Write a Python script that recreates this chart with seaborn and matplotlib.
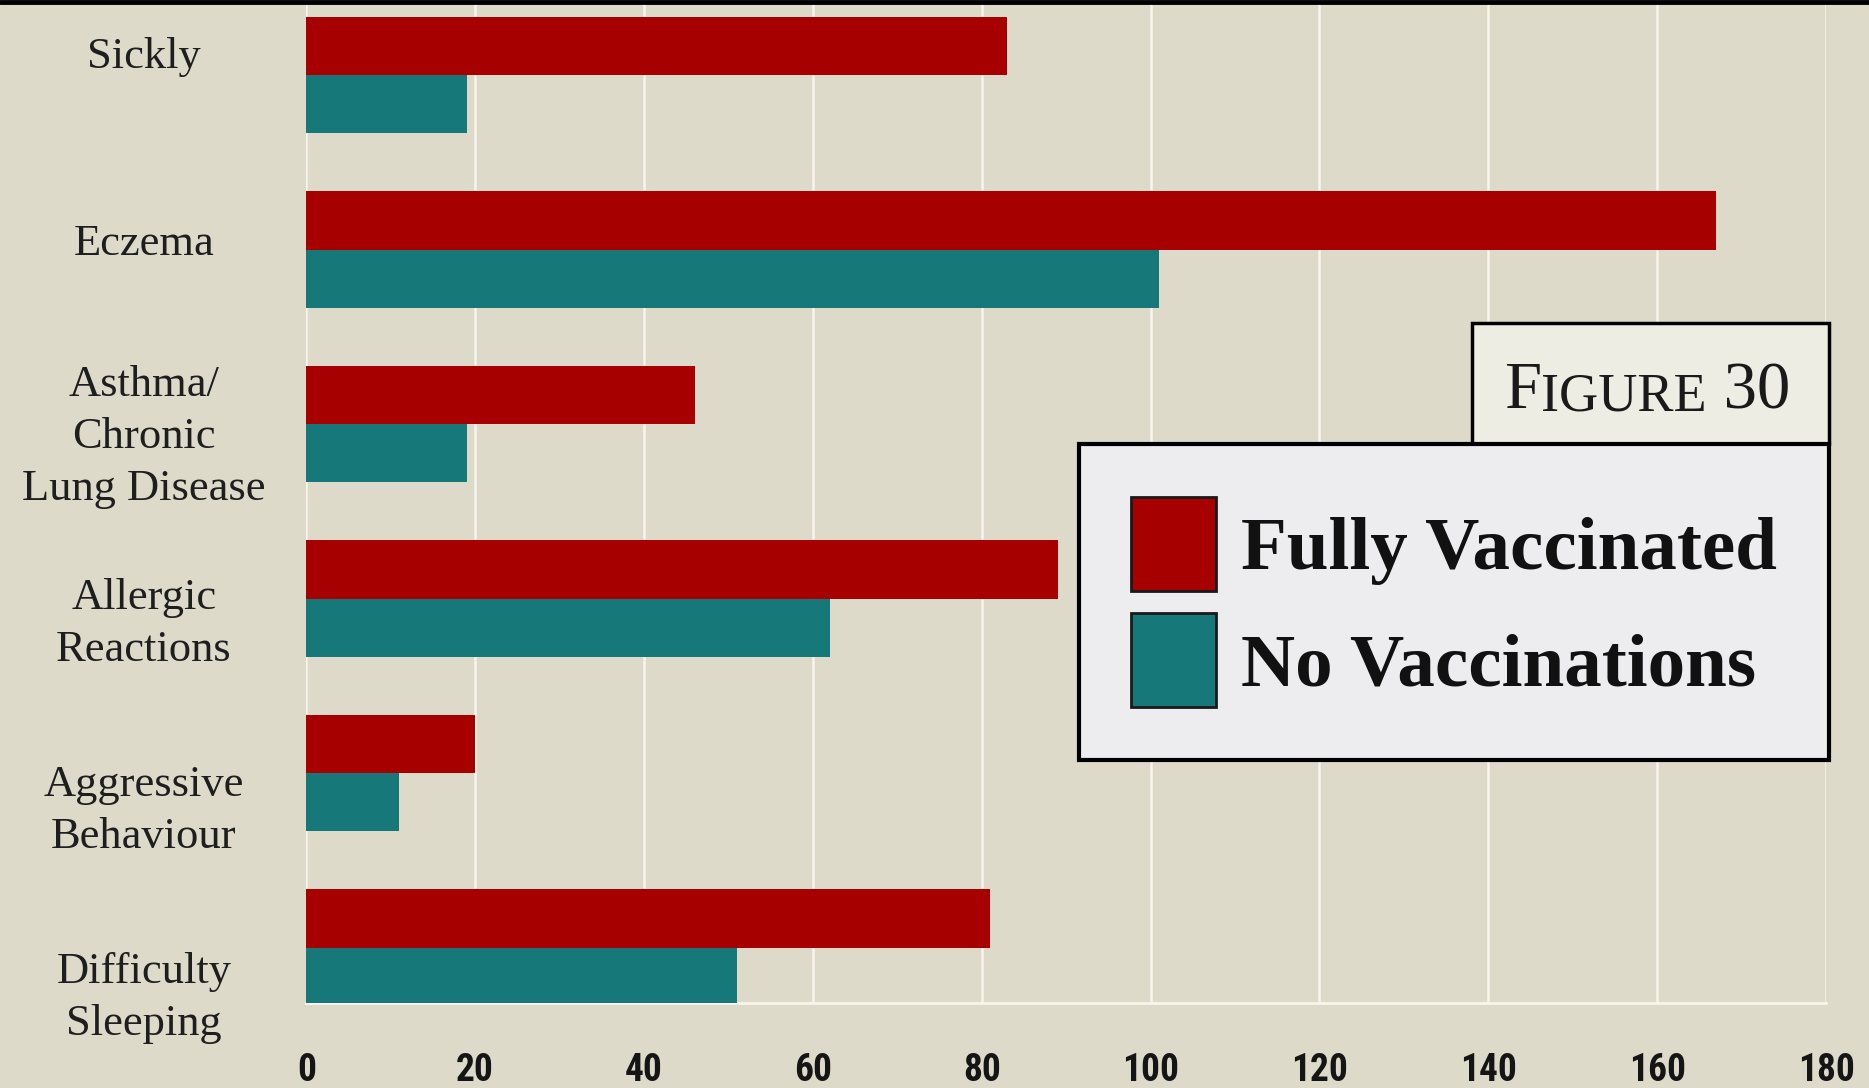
import matplotlib
matplotlib.use("Agg")
import matplotlib.pyplot as plt
from matplotlib import font_manager
import seaborn as sns
import pandas as pd
import numpy as np
from matplotlib.patches import Rectangle
from matplotlib.lines import Line2D

# ---- data ----
categories = ["Sickly", "Eczema", "Asthma/\nChronic\nLung Disease",
              "Allergic\nReactions", "Aggressive\nBehaviour", "Difficulty\nSleeping"]
fully_vaccinated = [83, 167, 46, 89, 20, 81]
no_vaccinations = [19, 101, 19, 62, 11, 51]
series_names = ["Fully Vaccinated", "No Vaccinations"]
x_ticks = [0, 20, 40, 60, 80, 100, 120, 140, 160, 180]
figure_label = ["F", "IGURE", " 30"]

df = pd.DataFrame({
    "Condition": categories * 2,
    "Count": fully_vaccinated + no_vaccinations,
    "Group": [series_names[0]] * len(categories) + [series_names[1]] * len(categories),
})

BG = "#DDDACA"
RED = "#A60000"
TEAL = "#17787A"

sns.set_style("white")
plt.rcParams['font.family'] = ['Liberation Serif', 'DejaVu Serif']

# pick a condensed font for the x tick labels if one is installed
installed = {f.name for f in font_manager.fontManager.ttflist}
tick_font, tick_size = 'DejaVu Sans', 21
for name, size in [('Liberation Sans Narrow', 28), ('Roboto Condensed', 27),
                   ('Open Sans Condensed', 27)]:
    if name in installed:
        tick_font, tick_size = name, size
        break

fig = plt.figure(figsize=(18.69, 10.88), dpi=100, facecolor=BG)
ax = fig.add_axes([0.1639, 0.0778, 0.8131, 0.9222])
ax.set_facecolor(BG)

sns.barplot(data=df, y="Condition", x="Count", hue="Group", order=categories,
            hue_order=series_names, palette=[RED, TEAL], width=0.67, orient="h",
            ax=ax, linewidth=0, saturation=1, legend=True, zorder=3)

ax.set_xlim(0, 180)
ax.set_ylim(5.32, -0.43)
ax.set_xticks(x_ticks)
ax.set_xticklabels([str(t) for t in x_ticks], fontfamily=[tick_font, 'DejaVu Sans'],
                   fontweight='bold', fontsize=tick_size, color='#151515')
ax.tick_params(axis='x', length=0, pad=35)

label_pos = np.arange(len(categories)) * 1.072 - 0.13
ax.set_yticks(label_pos)
ax.set_yticklabels(categories, fontsize=32, color='#1E1E1E', linespacing=1.38)
ax.tick_params(axis='y', length=0, pad=117)
for lab in ax.get_yticklabels():
    lab.set_horizontalalignment('center')
    lab.set_multialignment('center')

ax.set_xlabel('')
ax.set_ylabel('')
ax.grid(axis='x', color='#F7F5EC', lw=1.8)
ax.grid(axis='y', visible=False)
ax.set_axisbelow(True)
for s in ['top', 'right', 'left']:
    ax.spines[s].set_visible(False)
ax.spines['bottom'].set_color('#F7F5EC')
ax.spines['bottom'].set_linewidth(2)

# legend
handles, labels = ax.get_legend_handles_labels()
leg = ax.legend(handles, labels, loc='upper right', bbox_to_anchor=(1.002, 0.557),
                borderaxespad=0, prop={'family': 'Liberation Serif', 'weight': 'bold', 'size': 54},
                handlelength=1.13, handleheight=1.55, handletextpad=0.33, borderpad=0.7,
                labelspacing=0.3, fancybox=False, framealpha=1, facecolor='#EDEDEF',
                edgecolor='black')
leg.get_frame().set_linewidth(3)
leg.set_zorder(6)
for h in leg.legend_handles:
    h.set_edgecolor('#1A1A1A')
    h.set_linewidth(2)
for t in leg.get_texts():
    t.set_color('#111111')

# figure label box
ax.add_patch(Rectangle((0.767, 0.557), 0.235, 0.121, transform=ax.transAxes,
                       facecolor='#EEEDE4', edgecolor='black', lw=2.5,
                       clip_on=False, zorder=5))
t1 = ax.text(0.788, 0.593, figure_label[0], transform=ax.transAxes, fontsize=48,
             color='#1A1A1A', zorder=7, va='baseline')
t2 = ax.annotate(figure_label[1], xy=(1, 0), xycoords=t1, fontsize=39,
                 color='#1A1A1A', zorder=7, va='bottom')
t3 = ax.annotate(figure_label[2], xy=(1, 0), xycoords=t2, fontsize=48,
                 color='#1A1A1A', zorder=7, va='bottom')

# black line at top
fig.add_artist(Line2D([0, 1], [0.998, 0.998], transform=fig.transFigure,
                      color='black', lw=3.5))

fig.savefig("out.png", dpi=100, facecolor=BG)
